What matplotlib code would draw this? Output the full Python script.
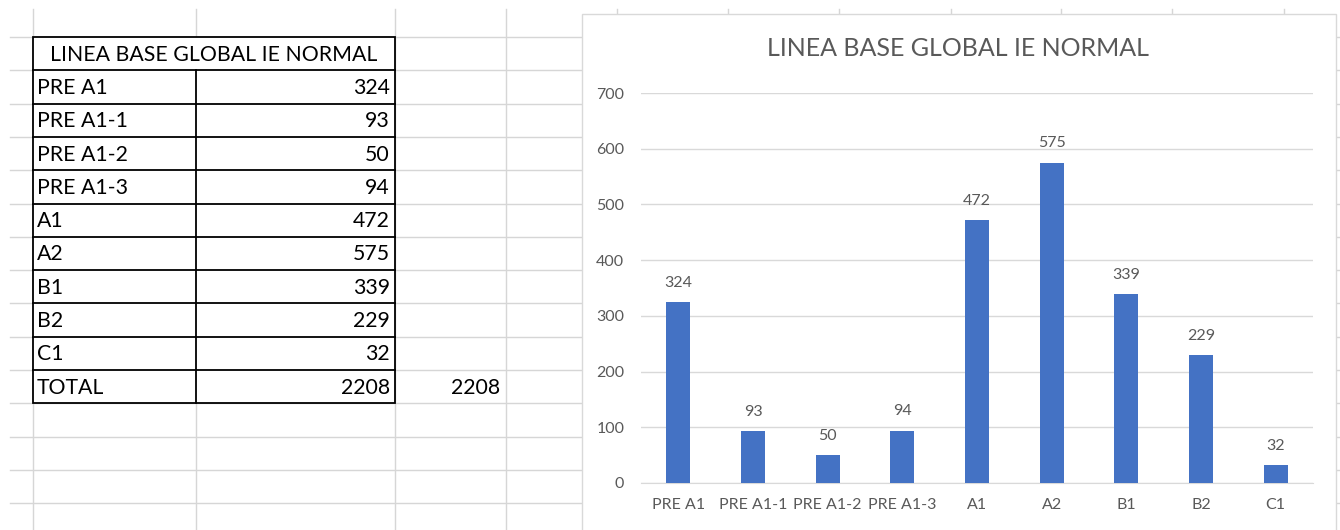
import matplotlib
matplotlib.use("Agg")
import matplotlib.pyplot as plt
from matplotlib.patches import Rectangle

# DATA
title = "LINEA BASE GLOBAL IE NORMAL"
categories = ["PRE A1", "PRE A1-1", "PRE A1-2", "PRE A1-3", "A1", "A2", "B1", "B2", "C1"]
values = [324, 93, 50, 94, 472, 575, 339, 229, 32]
y_ticks = [0, 100, 200, 300, 400, 500, 600, 700]

total = sum(values)

W, H = 1340, 530
plt.rcParams['font.family'] = ['Lato', 'DejaVu Sans']

fig = plt.figure(figsize=(W / 100, H / 100), dpi=100)
fig.patch.set_facecolor('white')

# background "spreadsheet" in pixel coords
bg = fig.add_axes([0, 0, 1, 1])
bg.set_xlim(0, W)
bg.set_ylim(H, 0)
bg.axis('off')

grid_c = '#D6D6D6'
row_h = 33.3
top = 37
# horizontal sheet lines
for k in range(15):
    y = top + k * row_h
    bg.plot([10, W], [y, y], color=grid_c, lw=1, zorder=1)
# vertical sheet lines
for x in [33, 196, 395, 506, 617, 728, 839, 951, 1061, 1172, 1284]:
    bg.plot([x, x], [9, H], color=grid_c, lw=1, zorder=1)

# table
n_rows = len(categories) + 1
tab_bottom = top + (n_rows + 1) * row_h
bg.add_patch(Rectangle((33, top), 395 - 33, tab_bottom - top, fill=False,
                       edgecolor='black', lw=1.3, zorder=3))
for k in range(1, n_rows + 1):
    y = top + k * row_h
    bg.plot([33, 395], [y, y], color='black', lw=1.3, zorder=3)
bg.plot([196, 196], [top + row_h, tab_bottom], color='black', lw=1.3, zorder=3)

# white fill for table so grid doesn't show inside
bg.add_patch(Rectangle((33, top), 395 - 33, tab_bottom - top, facecolor='white',
                       edgecolor='none', zorder=2))

fs_cell = 15.3
bg.text((33 + 395) / 2, top + row_h / 2 + 1, title, ha='center', va='center',
        fontsize=fs_cell, color='black', zorder=4)
row_names = categories + ["TOTAL"]
row_vals = values + [total]
for i, (name, v) in enumerate(zip(row_names, row_vals)):
    yc = top + (i + 1.5) * row_h + 1
    bg.text(37, yc, name, ha='left', va='center', fontsize=fs_cell, color='black', zorder=4)
    bg.text(390, yc, str(v), ha='right', va='center', fontsize=fs_cell, color='black', zorder=4)
bg.text(500, top + (n_rows + 0.5) * row_h + 1, str(total), ha='right', va='center',
        fontsize=fs_cell, color='black', zorder=4)

# chart area
bg.add_patch(Rectangle((582, 14), 1336 - 582, H, facecolor='white',
                       edgecolor='#D9D9D9', lw=1, zorder=5))
bg.text(958, 48, title, ha='center', va='center', fontsize=18, color='#595959', zorder=6)

# plot
x0, x1, y_top, y_bot = 641, 1313, 93, 483
ax = fig.add_axes([x0 / W, (H - y_bot) / H, (x1 - x0) / W, (y_bot - y_top) / H])
ax.patch.set_alpha(0)
xs = range(len(categories))
ax.bar(xs, values, width=0.32, color='#4472C4', zorder=3)
ax.set_xlim(-0.5, len(categories) - 0.5)
ax.set_ylim(0, 700)
ax.set_yticks(y_ticks)
ax.set_xticks(list(xs))
ax.set_xticklabels(categories)
ax.yaxis.grid(True, color='#D9D9D9', lw=1)
ax.set_axisbelow(True)
for s in ax.spines.values():
    s.set_visible(False)
ax.spines['bottom'].set_visible(True)
ax.spines['bottom'].set_color('#D9D9D9')
ax.tick_params(axis='both', length=0, labelsize=11.5, labelcolor='#595959')
ax.tick_params(axis='y', pad=12)
ax.tick_params(axis='x', pad=11)

for x, v in zip(xs, values):
    ax.annotate(str(v), (x, v), xytext=(0, 14), textcoords='offset points',
                ha='center', va='center', fontsize=11.5, color='#595959')

fig.savefig('out.png', dpi=100)
